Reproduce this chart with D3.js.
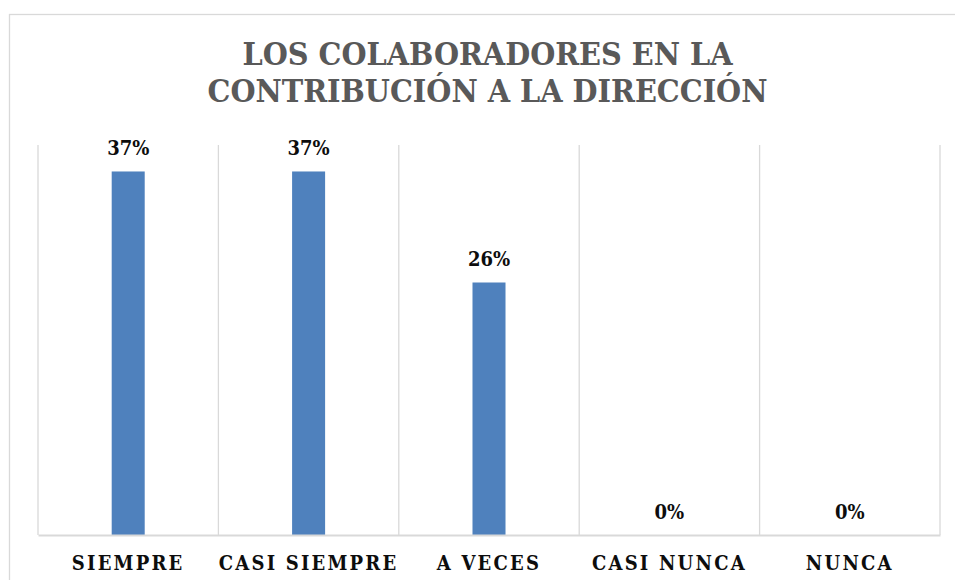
<!DOCTYPE html>
<html>
<head>
<meta charset="utf-8">
<script src="https://cdn.jsdelivr.net/npm/d3@7"></script>
<style>
  html, body { margin: 0; padding: 0; background: #fff; }
  svg { display: block; }
</style>
</head>
<body>
<svg id="chart" width="955" height="580"></svg>
<script>
const titleLines = ["LOS COLABORADORES EN LA", "CONTRIBUCIÓN A LA DIRECCIÓN"];
const categories = ["SIEMPRE", "CASI SIEMPRE", "A VECES", "CASI NUNCA", "NUNCA"];
const values = [0.37, 0.37, 0.257, 0, 0];
const valueLabels = ["37%", "37%", "26%", "0%", "0%"];

const svg = d3.select("#chart");
const W = 955, H = 580;
const plot = { left: 38, right: 940, top: 145, bottom: 535 };

// outer chart border
svg.append("rect")
  .attr("x", 9.5).attr("y", 14.5)
  .attr("width", 1000).attr("height", 1000)
  .attr("fill", "#fff").attr("stroke", "#d9d9d9").attr("stroke-width", 1.3);

const serif = "'DejaVu Serif Condensed', 'DejaVu Serif', serif";

// title
const titleWidths = [490, 560];
const tt = svg.append("text")
  .attr("text-anchor", "middle")
  .attr("font-family", serif)
  .attr("font-weight", "bold")
  .attr("font-size", 32)
  .attr("fill", "#595959");
titleLines.forEach((l, i) => {
  tt.append("tspan")
    .attr("x", (W) / 2 + 10)
    .attr("y", 65 + i * 37)
    .attr("textLength", titleWidths[i])
    .attr("lengthAdjust", "spacing")
    .text(l);
});

const x = d3.scaleBand().domain(categories).range([plot.left, plot.right]).paddingInner(0.817).paddingOuter(0.4085);
const xGrid = d3.scaleBand().domain(categories).range([plot.left, plot.right]).padding(0);
const y = d3.scaleLinear().domain([0, 0.4]).range([plot.bottom, 142]);

// vertical gridlines at category boundaries
const bounds = categories.map(c => xGrid(c)).concat([plot.right]);
svg.append("g").selectAll("line").data(bounds).join("line")
  .attr("x1", d => d).attr("x2", d => d)
  .attr("y1", plot.top).attr("y2", plot.bottom)
  .attr("stroke", "#d9d9d9").attr("stroke-width", 1.3);

// bars
svg.append("g").selectAll("rect").data(categories).join("rect")
  .attr("x", c => x(c))
  .attr("width", x.bandwidth())
  .attr("y", (c, i) => y(values[i]))
  .attr("height", (c, i) => y(0) - y(values[i]))
  .attr("fill", "#4f81bd");

// baseline axis
const xAxis = svg.append("g")
  .attr("transform", `translate(0,${plot.bottom})`)
  .call(d3.axisBottom(xGrid).tickSize(0).tickPadding(0));
xAxis.select(".domain").attr("stroke", "#d9d9d9").attr("stroke-width", 2);
xAxis.selectAll("text")
  .attr("dy", 0).attr("y", 35)
  .attr("font-family", serif)
  .attr("font-weight", "bold")
  .attr("font-size", 20)
  .attr("letter-spacing", 2.2)
  .attr("fill", "#0d0d0d");

// value labels
svg.append("g").selectAll("text").data(categories).join("text")
  .attr("x", c => xGrid(c) + xGrid.bandwidth() / 2)
  .attr("y", (c, i) => y(values[i]) - 16.5)
  .attr("text-anchor", "middle")
  .attr("font-family", serif)
  .attr("font-weight", "bold")
  .attr("font-size", 20)
  .attr("fill", "#0d0d0d")
  .text((c, i) => valueLabels[i]);
</script>
</body>
</html>
